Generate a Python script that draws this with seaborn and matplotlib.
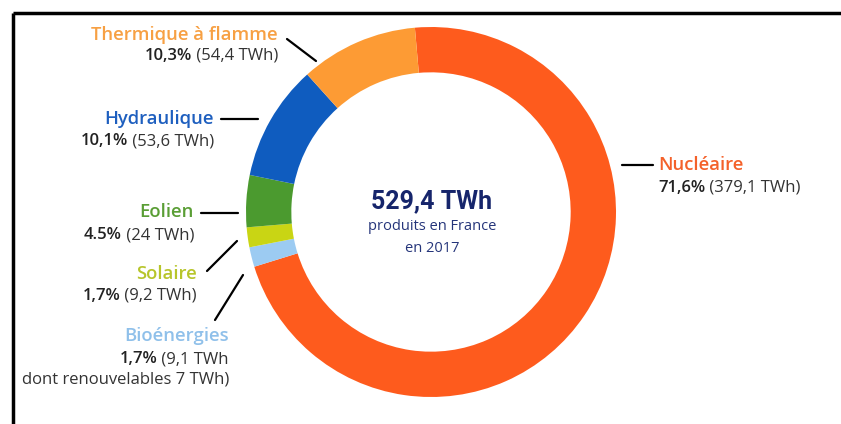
import numpy as np
import matplotlib
matplotlib.use("Agg")
import matplotlib.pyplot as plt
import seaborn as sns

# production electrique France 2017 (TWh), clockwise from the top
sources = ["Nucléaire", "Bioénergies", "Solaire", "Eolien", "Hydraulique", "Thermique à flamme"]
twh = [379.1, 9.1, 9.2, 24.0, 53.6, 54.4]
pct_labels = ["71,6%", "1,7%", "1,7%", "4.5%", "10,1%", "10,3%"]
twh_labels = ["(379,1 TWh)", "(9,1 TWh", "(9,2 TWh)", "(24 TWh)", "(53,6 TWh)", "(54,4 TWh)"]
total_label = "529,4 TWh"

wedge_colors = ["#fe5b1d", "#9ccbf2", "#c9d514", "#4b9a2f", "#0f5cbf", "#fd9b34"]
text_colors = ["#f4612a", "#8fc0ea", "#b7c52b", "#5a9e35", "#1e5fbf", "#f7a043"]

sns.set_theme(style="white")
plt.rcParams["font.family"] = ["Open Sans", "DejaVu Sans"]

fig = plt.figure(figsize=(8.41, 4.24), dpi=100)

# donut: center (431, 212) px, outer radius 185 px
cx, cy, r = 431, 212, 185
ax = fig.add_axes([(cx - r) / 841, (424 - cy - r) / 424, 2 * r / 841, 2 * r / 424])
ax.pie(twh, colors=wedge_colors, startangle=95, counterclock=False, radius=1,
       wedgeprops=dict(width=0.245, linewidth=0))
ax.set_xlim(-1, 1)
ax.set_ylim(-1, 1)
ax.set_aspect("auto")
ax.axis("off")

# overlay in pixel coordinates for labels and leader lines
ov = fig.add_axes([0, 0, 1, 1])
ov.set_xlim(0, 841)
ov.set_ylim(424, 0)
ov.axis("off")
ov.patch.set_alpha(0)

# frame (left and top only)
ov.plot([13, 13], [424, 13], color="black", lw=2.5, solid_capstyle="butt")
ov.plot([13, 841], [13, 13], color="black", lw=2.5, solid_capstyle="butt")

fs_name = 13.3
fs = 12
dark = "#333333"


def label(x, y1, y2, name, color, pct, val, ha="right"):
    ov.text(x, y1, name, color=color, fontsize=fs_name, fontweight="semibold",
            ha=ha, va="center")
    inv = ov.transData.inverted()
    if ha == "right":
        v = ov.text(x, y2, " " + val, color=dark, fontsize=fs, ha="right", va="center")
        fig.canvas.draw()
        bb = v.get_window_extent()
        xl = inv.transform((bb.x0, bb.y0))[0]
        ov.text(xl, y2, pct, color="#222222", fontsize=fs, fontweight="semibold",
                ha="right", va="center")
    else:
        p = ov.text(x, y2, pct, color="#222222", fontsize=fs, fontweight="semibold",
                    ha="left", va="center")
        fig.canvas.draw()
        bb = p.get_window_extent()
        xr = inv.transform((bb.x1, bb.y0))[0]
        ov.text(xr, y2, " " + val, color=dark, fontsize=fs, ha="left", va="center")


# Thermique
label(278, 35, 56, sources[5], text_colors[5], pct_labels[5], twh_labels[5])
ov.plot([287, 316], [39, 61], color="black", lw=1.6)
# Hydraulique
label(214, 119, 141, sources[4], text_colors[4], pct_labels[4], twh_labels[4])
ov.plot([221, 258], [119, 119], color="black", lw=1.6)
# Eolien
label(194, 212, 235, sources[3], text_colors[3], pct_labels[3], twh_labels[3])
ov.plot([201, 238], [213, 213], color="black", lw=1.6)
# Solaire
label(197, 274, 296, sources[2], text_colors[2], pct_labels[2], twh_labels[2])
ov.plot([207, 237], [271, 241], color="black", lw=1.6)
# Bioénergies
label(229, 336, 359, sources[1], text_colors[1], pct_labels[1], twh_labels[1])
ov.text(229, 380, "dont renouvelables 7 TWh)", color=dark, fontsize=fs, ha="right", va="center")
ov.plot([215, 243], [320, 275], color="black", lw=1.6)
# Nucléaire
label(658, 165, 188, sources[0], text_colors[0], pct_labels[0], twh_labels[0], ha="left")
ov.plot([622, 653], [165, 165], color="black", lw=1.6)

# center text
ov.text(cx + 1, 201, total_label, color="#16256b", fontsize=18, fontweight="bold",
        family=["Roboto", "DejaVu Sans"], ha="center", va="center")
ov.text(cx + 1, 227, "produits en France", color="#25357a", fontsize=10.5, ha="center", va="center")
ov.text(cx + 1, 248, "en 2017", color="#25357a", fontsize=10.5, ha="center", va="center")

fig.savefig("out.png", dpi=100, facecolor="white")
